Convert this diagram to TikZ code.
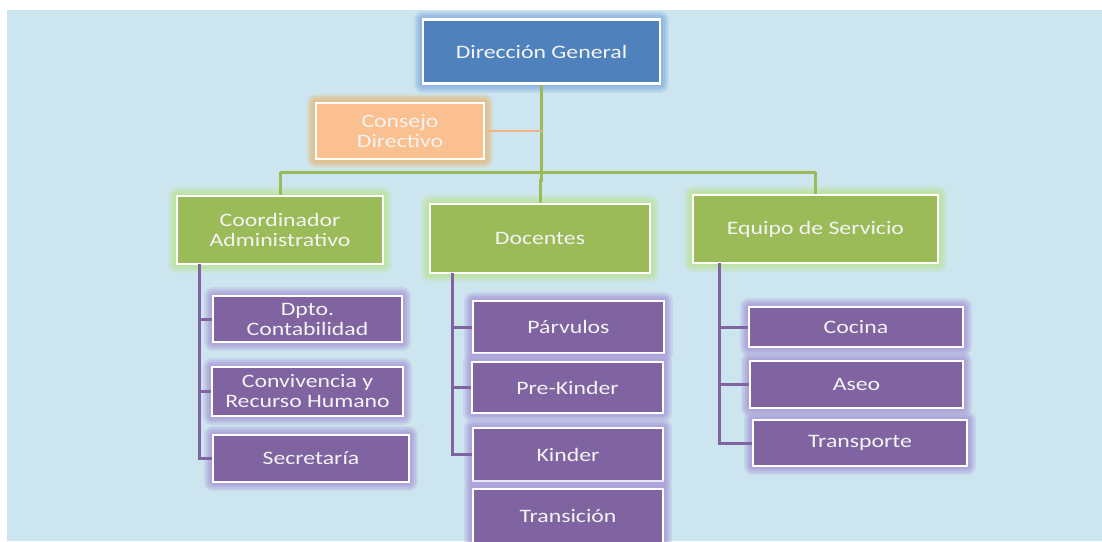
\documentclass[tikz,border=0pt]{standalone}
\usepackage{fontspec}
\setmainfont{Carlito}[FakeStretch=1.25]
\definecolor{bg}{HTML}{CDE5EE}
\definecolor{dirblue}{HTML}{4F81BD}
\definecolor{dirglow}{HTML}{8DB4E2}
\definecolor{consfill}{HTML}{FAC08F}
\definecolor{consglow}{HTML}{E3BE88}
\definecolor{grnfill}{HTML}{9BBB59}
\definecolor{grnglow}{HTML}{BFE3A2}
\definecolor{purfill}{HTML}{8064A2}
\definecolor{purglow}{HTML}{ADA3DA}
\definecolor{orline}{HTML}{F4B183}
\definecolor{txt}{HTML}{F4F4F4}
\tikzset{
  glowbox/.style n args={4}{rectangle, fill=#1, draw=white, line width=2.5pt,
    minimum width=#3, minimum height=#4, inner sep=0pt, align=center,
    text=txt, font=\fontsize{19}{20}\selectfont,
    preaction={draw=#2, line width=18pt, opacity=0.25, line join=round},
    preaction={draw=#2, line width=14pt, opacity=0.35, line join=round},
    preaction={draw=#2, line width=10pt, opacity=0.5, line join=round},
    preaction={draw=#2, line width=6pt, opacity=0.7, line join=round}},
  bluebox/.style 2 args={glowbox={dirblue}{dirglow}{#1}{#2}},
  orbox/.style 2 args={glowbox={consfill}{consglow}{#1}{#2}},
  grbox/.style 2 args={glowbox={grnfill}{grnglow}{#1}{#2}},
  pubox/.style 2 args={glowbox={purfill}{purglow}{#1}{#2}},
  grline/.style={draw=grnfill, line width=3pt},
  puline/.style={draw=purfill, line width=3pt},
  orlinest/.style={draw=orline, line width=1.5pt},
}
\begin{document}
\begin{tikzpicture}[x=1pt, y=-1pt]
\useasboundingbox (0,0) rectangle (1102,541);
\fill[bg] (7,10) rectangle (1102,541);

% top levels
\node[bluebox={237pt}{64pt}] (dir) at (541.5,51.5) {Dirección General};
\node[orbox={168pt}{56pt}] (cons) at (400,131) {Consejo\\Directivo};
\node[grbox={206pt}{68pt}] (coord) at (280,230) {Coordinador\\Administrativo};
\node[grbox={220pt}{69pt}] (doc) at (540,238.5) {Docentes};
\node[grbox={245pt}{68pt}] (equ) at (815.5,229) {Equipo de Servicio};

% coordinador children
\node[pubox={189pt}{46pt}] (dpto) at (307.5,319) {Dpto.\\Contabilidad};
\node[pubox={191pt}{49pt}] (conv) at (307.5,391.5) {Convivencia y\\Recurso Humano};
\node[pubox={196pt}{47pt}] (secr) at (311,458.5) {Secretaría};

% docentes children
\node[pubox={191pt}{52pt}] (parv) at (568.5,327) {Párvulos};
\node[pubox={191pt}{51pt}] (prek) at (567.5,387.5) {Pre-Kinder};
\node[pubox={190pt}{53pt}] (kind) at (568,454.5) {Kinder};
\node[pubox={190pt}{54pt}] (tran) at (568,516) {Transición};

% equipo children
\node[pubox={214pt}{40pt}] (coc) at (856,327) {Cocina};
\node[pubox={213pt}{47pt}] (ase) at (856.5,384.5) {Aseo};
\node[pubox={214pt}{46pt}] (trp) at (860,443) {Transporte};

% green connectors
\coordinate (bus) at (541.5,172);
\coordinate (jog) at (541.5,180);
\draw[grline] (dir.south) -- (bus);
\draw[grline] (coord.north |- bus) -- (equ.north |- bus);
\draw[grline] (coord.north |- bus) -- (coord.north);
\draw[grline] (equ.north |- bus) -- (equ.north);
\draw[grline] (bus) -- (jog) -- (doc.north |- jog) -- (doc.north);
% orange connector
\draw[orlinest] (cons.east) -- (cons.east -| dir.south);

% purple connectors
\coordinate (cst) at (199,264);
\draw[puline] (cst) |- (secr.west);
\draw[puline] (cst |- dpto.west) -- (dpto.west);
\draw[puline] (cst |- conv.west) -- (conv.west);

\coordinate (dst) at (452,273);
\draw[puline] (dst) |- (kind.west);
\draw[puline] (dst |- parv.west) -- (parv.west);
\draw[puline] (dst |- prek.west) -- (prek.west);

\coordinate (est) at (719,263);
\draw[puline] (est) |- (trp.west);
\draw[puline] (est |- coc.west) -- (coc.west);
\draw[puline] (est |- ase.west) -- (ase.west);
\end{tikzpicture}
\end{document}
